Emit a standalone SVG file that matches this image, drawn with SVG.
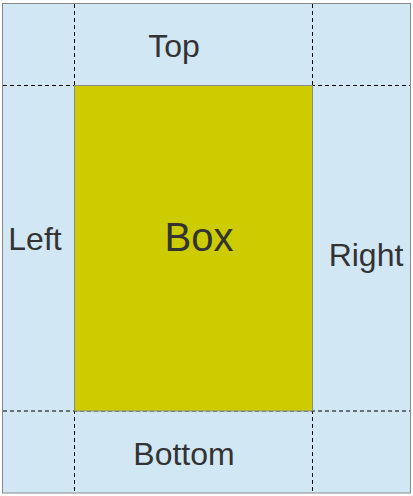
<svg xmlns="http://www.w3.org/2000/svg" width="413" height="496" viewBox="0 0 413 496">
<style>
.lbl{font-family:"Liberation Sans",Arial,sans-serif;font-size:32px;fill:#333333;text-anchor:middle}
.dash{stroke:#000;stroke-width:1;stroke-dasharray:4,3;fill:none}
</style>
<rect x="0" y="0" width="413" height="496" fill="#ffffff"/>
<g id="container">
<rect x="2.5" y="3.5" width="408" height="489.5" fill="#d1e7f4" stroke="#888888" stroke-width="1"/>
</g>
<g id="guides">
<line class="dash" x1="74.5" y1="4" x2="74.5" y2="492.5"/>
<line class="dash" x1="312.5" y1="4" x2="312.5" y2="492.5"/>
<line class="dash" x1="3" y1="85.5" x2="410" y2="85.5"/>
<line class="dash" x1="3" y1="411" x2="410" y2="411"/>
</g>
<g id="box">
<rect x="74.5" y="85.5" width="238" height="325.5" fill="#cccc00" stroke="#888888" stroke-width="1"/>
<text class="lbl" x="199" y="251" style="font-size:40px">Box</text>
</g>
<g id="top"><text class="lbl" x="174" y="57">Top</text></g>
<g id="bottom"><text class="lbl" x="184" y="465">Bottom</text></g>
<g id="left"><text class="lbl" x="35" y="250">Left</text></g>
<g id="right"><text class="lbl" x="366" y="266">Right</text></g>
</svg>
